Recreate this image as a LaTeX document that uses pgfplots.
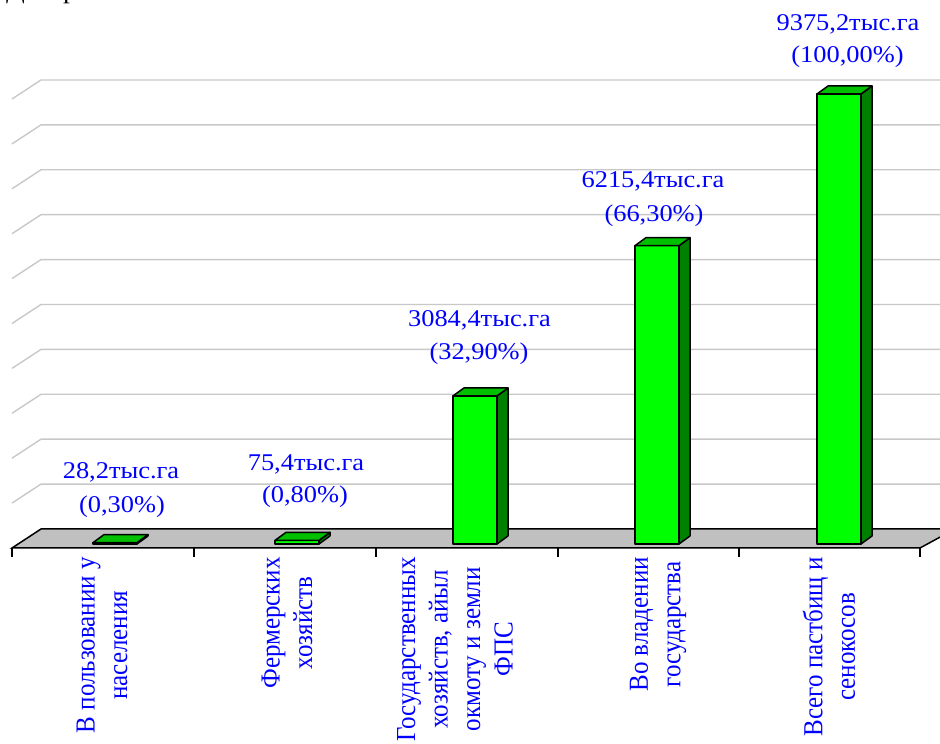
\documentclass[border=0pt]{standalone}
\usepackage{fontspec}
\setmainfont{Liberation Serif}
\usepackage{pgfplots}
\pgfplotsset{compat=1.18}
\definecolor{barfront}{RGB}{0,255,0}
\definecolor{bartop}{RGB}{0,192,0}
\definecolor{barside}{RGB}{0,128,0}
\definecolor{floorgray}{RGB}{192,192,192}
\definecolor{gridgray}{RGB}{200,200,200}
\definecolor{lblue}{RGB}{0,0,255}
\begin{document}
\begin{tikzpicture}
\pgfplotsset{base/.style={width=940pt,height=744pt,scale only axis,xmin=0,xmax=940,hide axis,clip=false,at={(0,0)},anchor=south west}}
\tikzset{
  dl/.style={text=lblue, font=\fontsize{24}{28}\selectfont, inner sep=0pt, xscale=1.1, anchor=base},
  cl/.style={text=lblue, font=\fontsize{25}{29.5}\selectfont, inner sep=0pt, rotate=90, yscale=1.1, anchor=east, align=center},
  face/.style={draw=black, line width=1.5pt, line join=round}
}
% ---------- back wall, floor, gridlines (wall scale: 0 .. 10000) ----------
\begin{axis}[base, ymin=-4788.4, ymax=11781.7, name=ax]
\addplot[gridgray, line width=1.4pt, unbounded coords=jump] table {
x y
12 577
41 1000
940 1000
nan nan
12 1577
41 2000
940 2000
nan nan
12 2577
41 3000
940 3000
nan nan
12 3577
41 4000
940 4000
nan nan
12 4577
41 5000
940 5000
nan nan
12 5577
41 6000
940 6000
nan nan
12 6577
41 7000
940 7000
nan nan
12 7577
41 8000
940 8000
nan nan
12 8577
41 9000
940 9000
nan nan
12 9577
41 10000
940 10000
};
\addplot[fill=floorgray, draw=black, line width=1.5pt] coordinates {(12,-423.2) (920,-423.2) (955,0) (41,0)} -- cycle;
\addplot[black, line width=1.5pt, unbounded coords=jump] table {
x y
12 -423.2
12 -623.6
nan nan
194 -423.2
194 -623.6
nan nan
376 -423.2
376 -623.6
nan nan
558 -423.2
558 -623.6
nan nan
739 -423.2
739 -623.6
nan nan
920 -423.2
920 -623.6
};
\node[cl] at (axis cs:102,-623.6) {В пользовании у\\населения};
\node[cl] at (axis cs:287,-623.6) {Фермерских\\хозяйств};
\node[cl] at (axis cs:455,-623.6) {Государственных\\хозяйств, айыл\\окмоту и земли\\ФПС};
\node[cl] at (axis cs:658,-623.6) {Во владении\\государства};
\node[cl] at (axis cs:829,-623.6) {Всего пастбищ и\\сенокосов};
\end{axis}
% ---------- bars (bar scale) ----------
\begin{axis}[base, ymin=-4166.67, ymax=11333.33]
% bar 1: 28.2
\addplot[face, fill=barfront] coordinates {(93,0) (137,0) (137,28.2) (93,28.2)} -- cycle;
\addplot[face, fill=barside] coordinates {(137,0) (148,166.7) (148,194.9) (137,28.2)} -- cycle;
\addplot[face, fill=bartop] coordinates {(93,28.2) (137,28.2) (148,194.9) (104,194.9)} -- cycle;
% bar 2: 75.4
\addplot[face, fill=barfront] coordinates {(275,0) (319,0) (319,75.4) (275,75.4)} -- cycle;
\addplot[face, fill=barside] coordinates {(319,0) (330,166.7) (330,242.1) (319,75.4)} -- cycle;
\addplot[face, fill=bartop] coordinates {(275,75.4) (319,75.4) (330,242.1) (286,242.1)} -- cycle;
% bar 3: 3084.4
\addplot[face, fill=barfront] coordinates {(453,0) (497,0) (497,3084.4) (453,3084.4)} -- cycle;
\addplot[face, fill=barside] coordinates {(497,0) (508,166.7) (508,3251.1) (497,3084.4)} -- cycle;
\addplot[face, fill=bartop] coordinates {(453,3084.4) (497,3084.4) (508,3251.1) (464,3251.1)} -- cycle;
% bar 4: 6215.4
\addplot[face, fill=barfront] coordinates {(635,0) (679,0) (679,6215.4) (635,6215.4)} -- cycle;
\addplot[face, fill=barside] coordinates {(679,0) (690,166.7) (690,6382.1) (679,6215.4)} -- cycle;
\addplot[face, fill=bartop] coordinates {(635,6215.4) (679,6215.4) (690,6382.1) (646,6382.1)} -- cycle;
% bar 5: 9375.2
\addplot[face, fill=barfront] coordinates {(817,0) (861,0) (861,9375.2) (817,9375.2)} -- cycle;
\addplot[face, fill=barside] coordinates {(861,0) (872,166.7) (872,9541.9) (861,9375.2)} -- cycle;
\addplot[face, fill=bartop] coordinates {(817,9375.2) (861,9375.2) (872,9541.9) (828,9541.9)} -- cycle;
% data labels
\node[dl, yshift=64.6pt] at (axis cs:121,28.2) {28,2тыс.га};
\node[dl, yshift=30.6pt] at (axis cs:122,28.2) {(0,30\%)};
\node[dl, yshift=69.4pt] at (axis cs:306,75.4) {75,4тыс.га};
\node[dl, yshift=37.4pt] at (axis cs:305,75.4) {(0,80\%)};
\node[dl, yshift=69pt] at (axis cs:479.5,3084.4) {3084,4тыс.га};
\node[dl, yshift=36pt] at (axis cs:479,3084.4) {(32,90\%)};
\node[dl, yshift=57.7pt] at (axis cs:653,6215.4) {6215,4тыс.га};
\node[dl, yshift=23.7pt] at (axis cs:654,6215.4) {(66,30\%)};
\node[dl, yshift=63pt] at (axis cs:848,9375.2) {9375,2тыс.га};
\node[dl, yshift=31pt] at (axis cs:847.5,9375.2) {(100,00\%)};
% cut-off heading above the picture
\node[font=\fontsize{25}{30}\selectfont, inner sep=0pt, xscale=1.1, anchor=base west, yshift=1pt] at (axis cs:6,11333.33) {Диаграмма};
\end{axis}
\pgfresetboundingbox
\useasboundingbox (ax.south west) rectangle (ax.north east);
\end{tikzpicture}
\end{document}
